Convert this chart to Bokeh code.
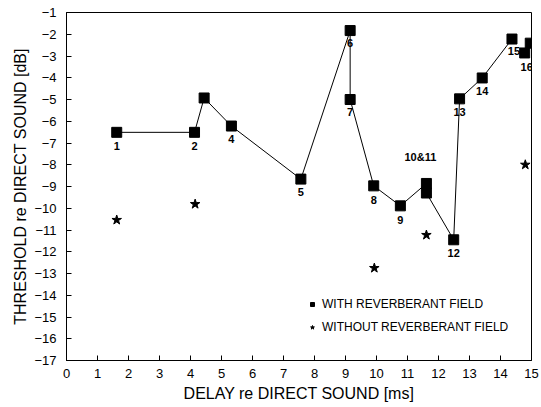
from bokeh.plotting import figure
from bokeh.models import (Range1d, FixedTicker, ColumnDataSource, Legend, LegendItem)
from bokeh.core.properties import value
from bokeh.embed import file_html
from bokeh.resources import INLINE

# ---- data ----
with_delay = [1.62, 4.13, 4.44, 5.32, 7.56, 9.15, 9.15, 9.91, 10.77, 11.61, 11.61,
              12.49, 12.68, 13.41, 14.37, 14.78, 14.96]
with_thresh = [-6.51, -6.51, -4.93, -6.22, -8.66, -1.83, -5.0, -8.97, -9.89, -8.86, -9.30,
               -11.45, -4.97, -4.01, -2.22, -2.86, -2.41]
connected_count = 15  # points 1..15 joined by the line

without_delay = [1.62, 4.15, 9.93, 11.61, 14.80]
without_thresh = [-10.54, -9.81, -12.75, -11.23, -8.0]

point_labels = ["1", "2", "", "4", "5", "6", "7", "8", "9", "10&11", "",
                "12", "13", "14", "15", "16", ""]
label_dx = [0, 0, 0, 0, 0, 0, 0, 0, 0, -6, 0, 0, 0, 0, 2, 2, 0]
label_dy = [14, 14, 0, 13, 13, 12, 12, 14, 14, -26, 0, 13, 13, 13, 12, 14, 0]

x_ticks = list(range(0, 16))
y_ticks = list(range(-17, 0))

FONT = "Liberation Sans"

p = figure(width=541, height=407, output_backend="svg", toolbar_location=None,
           x_range=Range1d(0, 15), y_range=Range1d(-17, -1),
           min_border_left=66, min_border_right=10, min_border_top=12, min_border_bottom=47)
p.grid.visible = False
p.outline_line_color = "black"
p.outline_line_width = 1
p.background_fill_color = "white"
p.border_fill_color = "white"

for ax, ticks in ((p.xaxis, x_ticks), (p.yaxis, y_ticks)):
    ax.ticker = FixedTicker(ticks=ticks)
    ax.minor_tick_line_color = None
    ax.major_tick_in = 5
    ax.major_tick_out = 0
    ax.axis_line_color = "black"
    ax.major_tick_line_color = "black"
    ax.major_label_text_font = FONT
    ax.major_label_text_font_size = "13px"
    ax.major_label_text_color = "black"
    ax.axis_label_text_font = FONT
    ax.axis_label_text_font_size = "16px"
    ax.axis_label_text_font_style = "normal"
    ax.axis_label_text_color = "black"

p.xaxis.axis_label = "DELAY re DIRECT SOUND [ms]"
p.yaxis.axis_label = "THRESHOLD re DIRECT SOUND [dB]"
p.xaxis.major_label_standoff = 8
p.yaxis.major_label_standoff = 10
p.xaxis.axis_label_standoff = 4
p.yaxis.axis_label_standoff = 2

# connecting line
p.line(with_delay[:connected_count], with_thresh[:connected_count],
       line_color="black", line_width=1)

sq = p.scatter(with_delay, with_thresh, marker="square", size=10,
               fill_color="black", line_color="black")
st = p.scatter(without_delay, without_thresh, marker="star", size=10,
               fill_color="black", line_color="black")

lab_src = ColumnDataSource(dict(x=with_delay, y=with_thresh, t=point_labels,
                                dx=label_dx, dy=label_dy))
p.text(x="x", y="y", text="t", x_offset="dx", y_offset="dy", source=lab_src,
       text_font=value(FONT), text_font_size="11px", text_font_style="bold",
       text_align="center", text_baseline="middle", text_color="black")

legend = Legend(items=[LegendItem(label="WITH REVERBERANT FIELD", renderers=[sq]),
                       LegendItem(label="WITHOUT REVERBERANT FIELD", renderers=[st])],
                location=(241, 23), padding=0, margin=0, spacing=3,
                glyph_width=10, glyph_height=20, label_height=20, label_standoff=5,
                border_line_color=None, background_fill_alpha=0,
                label_text_font=FONT, label_text_font_size="12px",
                label_text_color="black")
p.add_layout(legend, "center")

open("out.html", "w").write(file_html(p, INLINE))
